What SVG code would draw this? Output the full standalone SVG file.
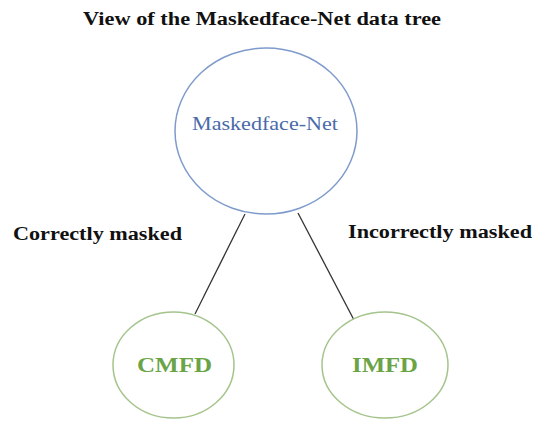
<svg xmlns="http://www.w3.org/2000/svg" width="535" height="421" viewBox="0 0 535 421">
  <style>
    .title { font-family: "Liberation Serif", "Times New Roman", serif; font-weight: bold; font-size: 18px; fill: #111; }
    .edge-label { font-family: "Liberation Serif", "Times New Roman", serif; font-weight: bold; font-size: 18px; fill: #111; }
    .root-label { font-family: "Liberation Serif", "Times New Roman", serif; font-size: 18px; fill: #4a6aa8; }
    .leaf-label { font-family: "Liberation Serif", "Times New Roman", serif; font-weight: bold; font-size: 20px; fill: #6aa447; }
    .root { fill: #fff; stroke: #7f9bcb; stroke-width: 1.5; }
    .leaf { fill: #fff; stroke: #a5c48c; stroke-width: 1.5; }
    .link { stroke: #333; stroke-width: 1.3; fill: none; }
  </style>
  <rect width="535" height="421" fill="#fff"/>

  <text class="title" x="83" y="25" textLength="358" lengthAdjust="spacingAndGlyphs">View of the Maskedface-Net data tree</text>

  <g id="connectors">
    <line class="link" x1="245" y1="214" x2="195" y2="314"/>
    <line class="link" x1="298" y1="213" x2="354" y2="320"/>
  </g>

  <g id="edge-labels">
    <text class="edge-label" x="13" y="240" textLength="169" lengthAdjust="spacingAndGlyphs">Correctly masked</text>
    <text class="edge-label" x="348" y="238" textLength="184" lengthAdjust="spacingAndGlyphs">Incorrectly masked</text>
  </g>

  <g id="node-root">
    <ellipse class="root" cx="266" cy="131" rx="91" ry="83"/>
    <text class="root-label" x="192" y="130" textLength="146" lengthAdjust="spacingAndGlyphs">Maskedface-Net</text>
  </g>

  <g id="node-cmfd">
    <ellipse class="leaf" cx="173.5" cy="365" rx="60.5" ry="53"/>
    <text class="leaf-label" x="137" y="372" textLength="75" lengthAdjust="spacingAndGlyphs">CMFD</text>
  </g>

  <g id="node-imfd">
    <ellipse class="leaf" cx="385" cy="365" rx="63" ry="53"/>
    <text class="leaf-label" x="352" y="372" textLength="66" lengthAdjust="spacingAndGlyphs">IMFD</text>
  </g>
</svg>
